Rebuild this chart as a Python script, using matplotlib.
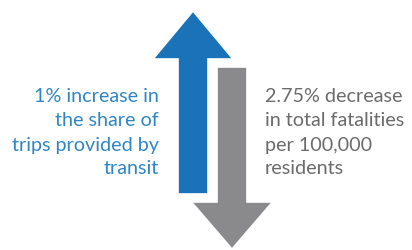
import matplotlib.pyplot as plt
from matplotlib.patches import Polygon

# text content
left_lines = ["1% increase in", "the share of", "trips provided by", "transit"]
right_lines = ["2.75% decrease", "in total fatalities", "per 100,000", "residents"]

BLUE = '#1a73b8'
GRAY = '#8a898b'
BLUE_TXT = '#2f86c6'
GRAY_TXT = '#6b6b6b'

W, H = 412, 250
fig = plt.figure(figsize=(W / 100, H / 100), dpi=100)
ax = fig.add_axes([0, 0, 1, 1])
ax.set_xlim(0, W)
ax.set_ylim(H, 0)
ax.axis('off')


def arrow(cx, shaft_w, head_w, y_tip, y_head, y_end, color):
    # vertical block arrow, pixel coordinates (y down)
    pts = [(cx, y_tip), (cx + head_w / 2, y_head), (cx + shaft_w / 2, y_head),
           (cx + shaft_w / 2, y_end), (cx - shaft_w / 2, y_end),
           (cx - shaft_w / 2, y_head), (cx - head_w / 2, y_head)]
    ax.add_patch(Polygon(pts, closed=True, facecolor=color,
                         edgecolor='white', lw=1.2, joinstyle='miter'))


arrow(232, 30, 81, 249, 202, 67, GRAY)   # down arrow
arrow(193, 30, 80, 11, 59, 194, BLUE)    # up arrow

fs = 14.2
ys = [97, 121, 145, 169]
for y, s in zip(ys, left_lines):
    ax.text(159, y, s, ha='right', va='center', fontsize=fs,
            color=BLUE_TXT, family='Lato')
for y, s in zip(ys, right_lines):
    ax.text(265, y, s, ha='left', va='center', fontsize=fs,
            color=GRAY_TXT, family='Lato')

fig.savefig('out.png', dpi=100)
